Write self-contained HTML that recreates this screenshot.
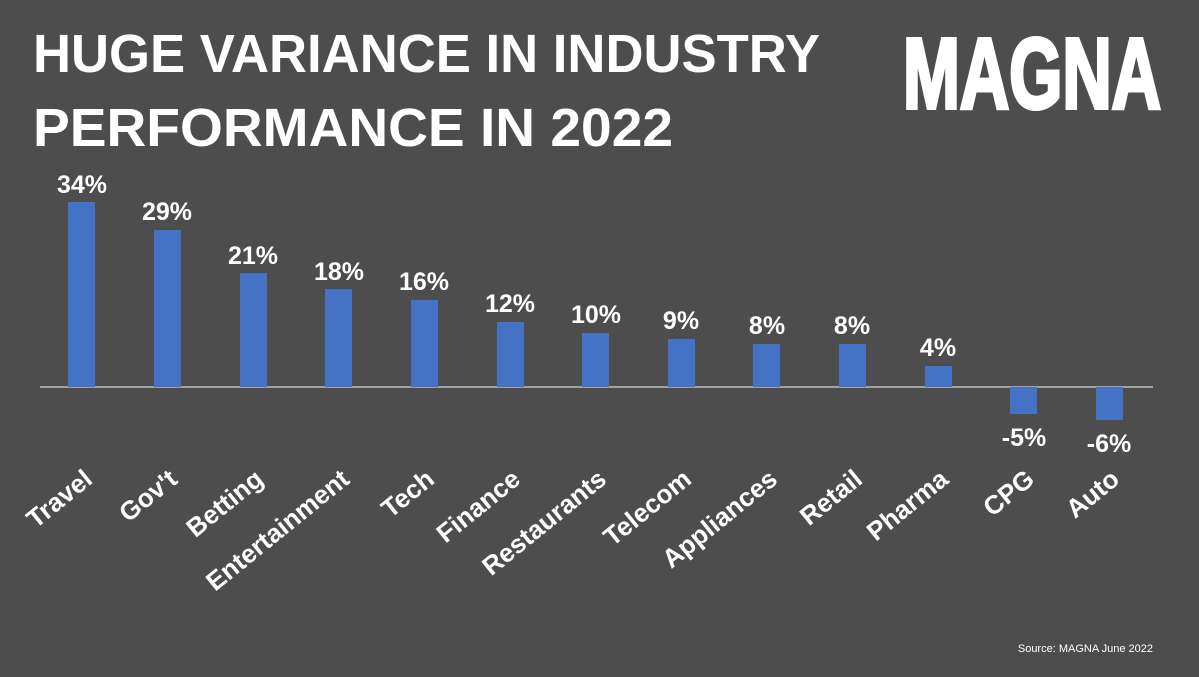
<!DOCTYPE html>
<html><head><style>body{margin:0;background:#4d4d4d}</style></head><body>
<svg width="1199" height="672" xmlns="http://www.w3.org/2000/svg" font-family="Liberation Sans, sans-serif">
<rect width="1199" height="672" fill="#4d4d4d"/>
<g fill="#fff" font-weight="bold" font-size="54">
<text x="33" y="72" textLength="787" lengthAdjust="spacingAndGlyphs">HUGE VARIANCE IN INDUSTRY</text>
<text x="33" y="146" textLength="640" lengthAdjust="spacingAndGlyphs">PERFORMANCE IN 2022</text>
<text x="903" y="108" font-size="100" textLength="258" lengthAdjust="spacingAndGlyphs" stroke="#fff" stroke-width="4">MAGNA</text>
</g>
<line x1="40" y1="387" x2="1153" y2="387" stroke="#bfbfbf" stroke-width="1.5"/>
<g fill="#4472c4">
<rect x="68" y="202" width="27" height="185"/>
<rect x="154" y="230" width="27" height="157"/>
<rect x="240" y="273" width="27" height="114"/>
<rect x="325" y="289" width="27" height="98"/>
<rect x="411" y="300" width="27" height="87"/>
<rect x="497" y="322" width="27" height="65"/>
<rect x="582" y="333" width="27" height="54"/>
<rect x="668" y="339" width="27" height="48"/>
<rect x="753" y="344" width="27" height="43"/>
<rect x="839" y="344" width="27" height="43"/>
<rect x="925" y="366" width="27" height="21"/>
<rect x="1010" y="387" width="27" height="27"/>
<rect x="1096" y="387" width="27" height="33"/>
</g>
<g fill="#fff" font-weight="bold" font-size="25" text-anchor="middle">
<text x="82" y="193">34%</text>
<text x="167" y="220">29%</text>
<text x="253" y="264">21%</text>
<text x="339" y="280">18%</text>
<text x="424" y="290">16%</text>
<text x="510" y="312">12%</text>
<text x="596" y="323">10%</text>
<text x="681" y="329">9%</text>
<text x="767" y="334">8%</text>
<text x="852" y="334">8%</text>
<text x="938" y="356">4%</text>
<text x="1024" y="446">-5%</text>
<text x="1109" y="452">-6%</text>
</g>
<g fill="#fff" font-weight="bold" font-size="26" text-anchor="end">
<text transform="translate(94,482) rotate(-39)">Travel</text>
<text transform="translate(179,482) rotate(-39)">Gov't</text>
<text transform="translate(265,482) rotate(-39)">Betting</text>
<text transform="translate(351,482) rotate(-39)">Entertainment</text>
<text transform="translate(436,482) rotate(-39)">Tech</text>
<text transform="translate(522,482) rotate(-39)">Finance</text>
<text transform="translate(608,482) rotate(-39)">Restaurants</text>
<text transform="translate(693,482) rotate(-39)">Telecom</text>
<text transform="translate(779,482) rotate(-39)">Appliances</text>
<text transform="translate(864,482) rotate(-39)">Retail</text>
<text transform="translate(950,482) rotate(-39)">Pharma</text>
<text transform="translate(1036,482) rotate(-39)">CPG</text>
<text transform="translate(1121,482) rotate(-39)">Auto</text>
</g>
<text x="1153" y="652" fill="#fff" font-size="11" text-anchor="end">Source: MAGNA June 2022</text>
</svg>
</body></html>
